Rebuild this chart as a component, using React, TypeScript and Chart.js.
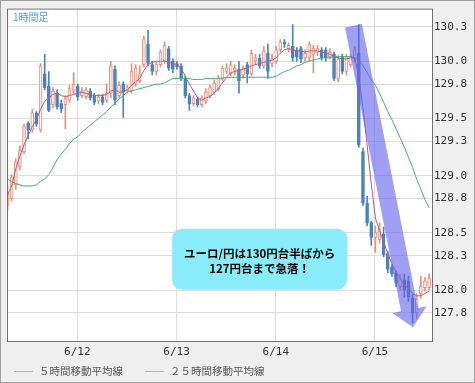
import React, { useEffect, useRef } from "react";
import { Chart, registerables } from "chart.js";

Chart.register(...registerables);

// ---- data ----
const OPEN = [
  128.74, 128.8, 128.92, 129.08, 129.21, 129.46, 129.4, 129.55, 129.4, 129.89,
  129.78, 129.62, 129.72, 129.63, 129.62, 129.66, 129.74, 129.78, 129.7, 129.69,
  129.74, 129.7, 129.65, 129.69, 129.66, 129.72, 129.93, 129.7, 129.8, 129.74,
  129.74, 129.8, 129.83, 129.97, 130.15, 129.97, 129.91, 129.97, 130.0, 130.11,
  130.0, 129.98, 129.96, 129.85, 129.7, 129.63, 129.67, 129.62, 129.65, 129.7,
  129.73, 129.76, 129.85, 129.91, 129.89, 129.92, 129.93, 129.88, 129.97, 129.89,
  130.0, 130.03, 129.96, 130.07, 129.98, 130.0, 130.1, 130.17, 130.11, 130.13,
  130.1, 130.11, 130.03, 130.03, 130.06, 130.08, 130.1, 130.1, 130.04, 130.06,
  129.85, 130.04, 129.91, 129.97, 130.02, 130.07, 129.21, 128.76, 128.59, 128.46,
  128.44, 128.49, 128.32, 128.2, 128.15, 128.03, 128.09, 128.08, 127.93, 127.8,
  127.97, 128.02, 128.02,
];
const HIGH = [
  128.93, 129.01, 129.15, 129.26, 129.45, 129.47, 129.58, 129.56, 129.98, 130.06,
  129.91, 129.77, 129.75, 129.66, 129.7, 129.79, 129.9, 129.8, 129.77, 129.77,
  129.76, 129.72, 129.71, 129.71, 129.8, 130.0, 129.96, 129.82, 129.82, 129.79,
  129.98, 129.97, 129.96, 130.22, 130.27, 130.0, 129.99, 130.1, 130.17, 130.13,
  130.02, 130.0, 129.98, 129.87, 129.72, 129.7, 129.69, 129.7, 129.76, 129.79,
  129.84, 129.88, 129.96, 129.98, 130.0, 129.97, 130.0, 129.96, 129.99, 130.1,
  130.06, 130.06, 130.13, 130.15, 130.06, 130.13, 130.19, 130.19, 130.16, 130.32,
  130.12, 130.13, 130.1, 130.17, 130.14, 130.14, 130.12, 130.12, 130.11, 130.08,
  130.05, 130.06, 130.06, 130.06, 130.13, 130.32, 129.24, 128.82, 128.6, 128.56,
  128.59, 128.55, 128.34, 128.22, 128.17, 128.14, 128.14, 128.12, 127.96, 127.97,
  128.12, 128.11, 128.14,
];
const LOW = [
  128.7, 128.78, 128.88, 129.05, 129.19, 129.32, 129.38, 129.43, 129.38, 129.75,
  129.56, 129.59, 129.58, 129.55, 129.41, 129.64, 129.71, 129.66, 129.68, 129.67,
  129.66, 129.62, 129.63, 129.62, 129.64, 129.68, 129.62, 129.68, 129.51, 129.72,
  129.72, 129.78, 129.81, 129.95, 129.96, 129.88, 129.88, 129.95, 129.98, 129.92,
  129.9, 129.93, 129.83, 129.68, 129.57, 129.61, 129.6, 129.6, 129.63, 129.68,
  129.71, 129.74, 129.83, 129.89, 129.87, 129.88, 129.72, 129.85, 129.81, 129.87,
  129.97, 129.94, 129.94, 129.85, 129.95, 129.98, 130.08, 130.12, 130.08, 130.0,
  130.0, 129.99, 130.0, 130.0, 129.9, 130.05, 130.01, 130.0, 130.02, 129.83,
  129.82, 129.89, 129.88, 129.95, 129.99, 129.25, 128.74, 128.56, 128.39, 128.33,
  128.41, 128.29, 128.15, 128.12, 128.03, 128.0, 127.94, 127.9, 127.71, 127.75,
  127.93, 127.99, 128.0,
];
const CLOSE = [
  128.85, 128.99, 129.12, 129.22, 129.43, 129.4, 129.55, 129.45, 129.96, 129.77,
  129.57, 129.74, 129.6, 129.58, 129.68, 129.76, 129.8, 129.69, 129.74, 129.75,
  129.68, 129.64, 129.69, 129.64, 129.72, 129.96, 129.66, 129.79, 129.73, 129.77,
  129.91, 129.94, 129.89, 130.19, 129.98, 129.91, 129.97, 130.08, 130.14, 129.94,
  129.93, 129.95, 129.85, 129.7, 129.63, 129.68, 129.62, 129.68, 129.73, 129.77,
  129.81, 129.85, 129.94, 129.94, 129.97, 129.94, 129.83, 129.94, 129.89, 130.07,
  130.03, 129.96, 130.09, 129.91, 130.02, 130.1, 130.17, 130.15, 130.14, 130.03,
  130.04, 130.02, 130.07, 130.15, 130.11, 130.11, 130.03, 130.03, 130.08, 129.85,
  130.02, 129.91, 130.04, 130.04, 130.1, 129.27, 128.76, 128.59, 128.46, 128.5,
  128.53, 128.31, 128.18, 128.14, 128.06, 128.09, 128.0, 127.94, 127.8, 127.92,
  128.03, 128.08, 128.1,
];
const MA5 = [
  128.83, 128.91, 129.06, 129.17, 129.27, 129.35, 129.43, 129.49, 129.58, 129.65,
  129.68, 129.71, 129.72, 129.7, 129.69, 129.7, 129.71, 129.72, 129.73, 129.72,
  129.71, 129.7, 129.7, 129.7, 129.71, 129.74, 129.75, 129.73, 129.73, 129.75,
  129.79, 129.82, 129.85, 129.92, 129.97, 129.99, 130.0, 130.0, 130.0, 129.99,
  129.98, 129.97, 129.94, 129.87, 129.8, 129.74, 129.68, 129.66, 129.68, 129.69,
  129.72, 129.76, 129.81, 129.86, 129.9, 129.91, 129.92, 129.93, 129.94, 129.96,
  129.97, 129.98, 129.99, 130.0, 130.01, 130.03, 130.07, 130.1, 130.11, 130.1,
  130.09, 130.09, 130.08, 130.09, 130.09, 130.09, 130.08, 130.07, 130.06, 130.04,
  130.03, 130.02, 130.02, 130.03, 130.03, 129.87, 129.59, 129.27, 128.93, 128.63,
  128.52, 128.42, 128.32, 128.23, 128.16, 128.1, 128.05, 128.01, 127.97, 127.95,
  127.95, 127.97, 127.99,
];
const MA25 = [
  128.97, 128.95, 128.93, 128.92, 128.91, 128.91, 128.91, 128.92, 128.95, 128.97,
  129.01, 129.07, 129.14, 129.19, 129.23, 129.28, 129.32, 129.34, 129.38, 129.41,
  129.44, 129.47, 129.5, 129.53, 129.56, 129.6, 129.63, 129.67, 129.7, 129.73,
  129.74, 129.75, 129.76, 129.77, 129.78, 129.79, 129.8, 129.8, 129.81, 129.83,
  129.85, 129.85, 129.85, 129.85, 129.85, 129.84, 129.84, 129.84, 129.85, 129.85,
  129.85, 129.85, 129.85, 129.86, 129.86, 129.86, 129.86, 129.86, 129.86, 129.86,
  129.86, 129.86, 129.86, 129.86, 129.86, 129.87, 129.89, 129.91, 129.92, 129.94,
  129.96, 129.97, 129.99, 130.0, 130.01, 130.02, 130.03, 130.03, 130.03, 130.04,
  130.04, 130.04, 130.04, 130.04, 130.03, 130.01, 129.96, 129.9, 129.84, 129.79,
  129.72, 129.64, 129.56, 129.49, 129.41, 129.33, 129.25, 129.16, 129.07, 128.97,
  128.88, 128.79, 128.72,
];
const Y_TICKS = [127.8, 128.0, 128.3, 128.5, 128.8, 129.0, 129.3, 129.5, 129.8, 130.0, 130.3];
const DATE_TICKS = [16.9, 40.9, 64.9, 88.9];
const DATE_LABELS = ["6/12", "6/13", "6/14", "6/15"];
const SERIES_LABELS = ["５時間移動平均線", "２５時間移動平均線"];
const TIMEFRAME_LABEL = "1時間足";
const CALLOUT_LINES = ["ユーロ/円は130円台半ばから", "127円台まで急落！"];
const CALLOUT_AT = { x: 61.0, y: 128.27 };
const ARROW_FROM = { x: 83.7, y: 130.31 };
const ARROW_TO = { x: 98.1, y: 127.675 };

// ---- styles ----
const UP_LINE = "#e8907a";
const UP_FILL = "#fdeee8";
const DOWN = "#4c83bf";
const MA5_COLOR = "#bb5c80";
const MA25_COLOR = "#3db36e";
const GRID = "#dcdcdc";
const CJK = '"Noto Sans CJK JP", "Noto Sans", sans-serif';
const MONO = '"DejaVu Sans Mono", monospace';

export default function App() {
  const ref = useRef<HTMLCanvasElement | null>(null);

  useEffect(() => {
    document.body.style.margin = "0";
    const canvas = ref.current;
    if (!canvas) return;
    const up = OPEN.map((o, i) => CLOSE[i] >= o);

    const decor = {
      id: "decor",
      beforeDraw(chart: any) {
        const { ctx, chartArea: a } = chart;
        ctx.save();
        ctx.fillStyle = "#efefef";
        ctx.fillRect(0, 0, chart.width, chart.height);
        ctx.fillStyle = "#ffffff";
        ctx.fillRect(a.left, a.top, a.right - a.left, a.bottom - a.top);
        ctx.restore();
      },
      afterDatasetsDraw(chart: any) {
        const { ctx, chartArea: a } = chart;
        const xs = chart.scales.x;
        const ys = chart.scales.y;
        ctx.save();
        // arrow
        const p0 = { x: xs.getPixelForValue(ARROW_FROM.x), y: ys.getPixelForValue(ARROW_FROM.y) };
        const p1 = { x: xs.getPixelForValue(ARROW_TO.x), y: ys.getPixelForValue(ARROW_TO.y) };
        const dx = p1.x - p0.x;
        const dy = p1.y - p0.y;
        const len = Math.hypot(dx, dy);
        const ux = dx / len, uy = dy / len;
        const nx = -uy, ny = ux;
        const sw = 8.6, hw = 17.5, hl = 18;
        const bx = p1.x - ux * hl, by = p1.y - uy * hl;
        ctx.beginPath();
        ctx.moveTo(p0.x + nx * sw, p0.y + ny * sw);
        ctx.lineTo(bx + nx * sw, by + ny * sw);
        ctx.lineTo(bx + nx * hw, by + ny * hw);
        ctx.lineTo(p1.x, p1.y);
        ctx.lineTo(bx - nx * hw, by - ny * hw);
        ctx.lineTo(bx - nx * sw, by - ny * sw);
        ctx.lineTo(p0.x - nx * sw, p0.y - ny * sw);
        ctx.closePath();
        ctx.fillStyle = "rgba(100, 100, 235, 0.62)";
        ctx.fill();

        // callout
        const cx = xs.getPixelForValue(CALLOUT_AT.x);
        const cy = ys.getPixelForValue(CALLOUT_AT.y);
        const bw = 175, bh = 61, r = 10;
        ctx.beginPath();
        ctx.roundRect(cx - bw / 2, cy - bh / 2, bw, bh, r);
        ctx.fillStyle = "#88ecfb";
        ctx.fill();
        ctx.fillStyle = "#000000";
        ctx.font = `bold 11.5px ${CJK}`;
        ctx.textAlign = "center";
        ctx.textBaseline = "middle";
        ctx.fillText(CALLOUT_LINES[0], cx, cy - 5.5);
        ctx.fillText(CALLOUT_LINES[1], cx, cy + 9.5);

        // timeframe label
        ctx.textAlign = "left";
        ctx.fillStyle = "#4aa3df";
        ctx.font = `10px ${CJK}`;
        ctx.fillText(TIMEFRAME_LABEL, a.left + 6, a.top + 9);

        // plot border
        ctx.strokeStyle = "#707070";
        ctx.lineWidth = 1;
        ctx.strokeRect(a.left + 0.5, a.top + 0.5, a.right - a.left, a.bottom - a.top);

        // legend
        const legendY = a.bottom + 30;
        const itemX = [14, 145];
        const colors = [MA5_COLOR, MA25_COLOR];
        ctx.font = `10.5px ${CJK}`;
        ctx.textBaseline = "middle";
        SERIES_LABELS.forEach((label, k) => {
          ctx.strokeStyle = colors[k];
          ctx.globalAlpha = 0.55;
          ctx.beginPath();
          ctx.moveTo(itemX[k], legendY + 0.5);
          ctx.lineTo(itemX[k] + 19, legendY + 0.5);
          ctx.stroke();
          ctx.globalAlpha = 1;
          ctx.fillStyle = "#555555";
          ctx.fillText(label, itemX[k] + 25, legendY);
        });

        // outer frame
        ctx.strokeStyle = "#a0a0a0";
        ctx.strokeRect(0.5, 0.5, chart.width - 1, chart.height - 1);
        ctx.restore();
      },
    };

    const chart = new Chart(canvas, {
      type: "bar",
      data: {
        datasets: [
          {
            type: "bar",
            label: "wick",
            data: LOW.map((l, i) => ({ x: i, y: [l, HIGH[i]] })) as any,
            backgroundColor: up.map((u) => (u ? UP_LINE : DOWN)),
            borderWidth: 0,
            barThickness: 1,
            grouped: false,
            order: 3,
          } as any,
          {
            type: "bar",
            label: "body",
            data: OPEN.map((o, i) => ({ x: i, y: [o, CLOSE[i]] })) as any,
            backgroundColor: up.map((u) => (u ? UP_FILL : DOWN)),
            borderColor: up.map((u) => (u ? UP_LINE : DOWN)),
            borderWidth: 1,
            borderSkipped: false,
            barThickness: 3,
            grouped: false,
            order: 2,
          } as any,
          {
            type: "line",
            label: SERIES_LABELS[0],
            data: MA5.map((v, i) => ({ x: i, y: v })),
            borderColor: MA5_COLOR,
            borderWidth: 1,
            pointRadius: 0,
            tension: 0,
            order: 1,
          } as any,
          {
            type: "line",
            label: SERIES_LABELS[1],
            data: MA25.map((v, i) => ({ x: i, y: v })),
            borderColor: MA25_COLOR,
            borderWidth: 1,
            pointRadius: 0,
            tension: 0,
            order: 0,
          } as any,
        ],
      },
      options: {
        responsive: false,
        animation: false,
        devicePixelRatio: 1,
        layout: { padding: { left: 7, top: 1, right: 0, bottom: 22 } },
        plugins: { legend: { display: false }, tooltip: { enabled: false } },
        scales: {
          x: {
            type: "linear",
            min: -0.12,
            max: 102.7,
            offset: false,
            grid: { color: GRID, drawTicks: false, offset: false },
            border: { display: false },
            afterBuildTicks: (s: any) => {
              s.ticks = DATE_TICKS.map((v) => ({ value: v }));
            },
            afterFit: (s: any) => {
              s.height = 20;
            },
            ticks: {
              autoSkip: false,
              maxRotation: 0,
              padding: 5,
              color: "#333333",
              font: { family: MONO, size: 11 },
              callback: (_v: any, i: number) => DATE_LABELS[i],
            },
          },
          y: {
            type: "linear",
            position: "right",
            min: 127.555,
            max: 130.46,
            grid: { color: GRID, drawTicks: false },
            border: { display: false },
            afterBuildTicks: (s: any) => {
              s.ticks = Y_TICKS.map((v) => ({ value: v }));
            },
            afterFit: (s: any) => {
              s.width = 43;
            },
            ticks: {
              padding: 2,
              color: "#333333",
              font: { family: MONO, size: 11 },
              callback: (v: any) => Number(v).toFixed(1),
            },
          },
        },
      },
      plugins: [decor],
    } as any);

    return () => chart.destroy();
  }, []);

  return (
    <div style={{ width: 475, height: 383 }}>
      <canvas ref={ref} width={475} height={383} style={{ display: "block", width: 475, height: 383 }} />
    </div>
  );
}
